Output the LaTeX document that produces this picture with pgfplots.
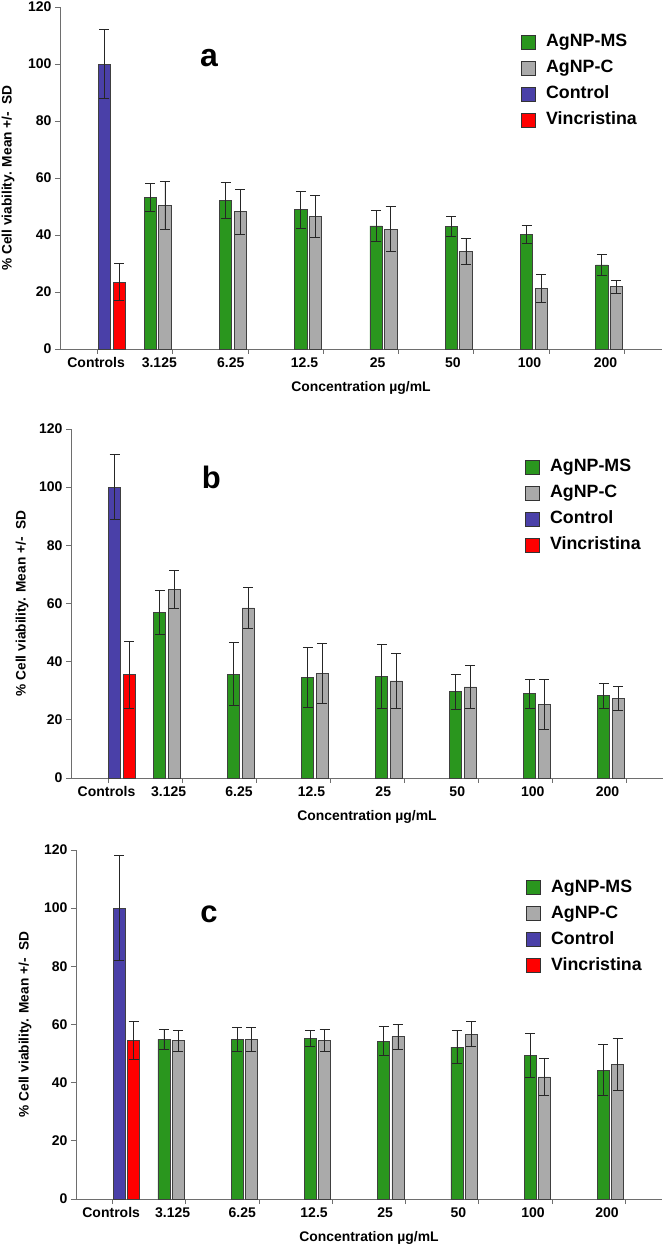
\documentclass[border=0pt]{standalone}
\usepackage{fontspec}
\setmainfont{Liberation Sans}
\usepackage{pgfplots}
\pgfplotsset{compat=1.18}
\definecolor{cgreen}{RGB}{42,150,30}
\definecolor{cgray}{RGB}{170,170,170}
\definecolor{cblue}{RGB}{74,64,168}
\definecolor{cred}{RGB}{255,0,0}
\definecolor{axgray}{RGB}{110,110,110}
\pgfplotsset{
 panel/.style={
  scale only axis, clip=false,
  xmin=0.5, xmax=8.5, ymin=0, ymax=120,
  axis x line*=bottom, axis y line*=left,
  axis line style={axgray, line width=0.9pt},
  tick style={axgray, line width=0.9pt},
  tick align=outside, major tick length=5pt,
  xtick={1,...,8}, xticklabels={},
  extra x ticks={0.98,1.82,2.77,3.75,4.72,5.72,6.74,7.75},
  extra x tick labels={Controls,3.125,6.25,12.5,25,50,100,200},
  extra x tick style={major tick length=0pt, xticklabel style={yshift=-5pt}},
  ytick={0,20,...,120},
  /pgf/number format/assume math mode=true,
  tick label style={font=\fontsize{14}{14}\selectfont\bfseries},
  xlabel={Concentration µg/mL},
  ylabel={\% Cell viability. Mean +/-\ \ SD},
  xlabel style={font=\fontsize{13.9}{13.9}\selectfont\bfseries, anchor=center},
  ylabel style={font=\fontsize{13.7}{13.7}\selectfont\bfseries, anchor=center},
  legend style={draw=none, fill=none, inner sep=0pt, anchor=north west,
    font=\fontsize{17.8}{17.8}\selectfont\bfseries,
    nodes={inner sep=0pt, text height=13pt, text depth=4pt},
    row sep=9pt, column sep=10pt},
  legend cell align=left,
  legend image code/.code={\draw[#1, draw=black!80, line width=0.8pt] (0pt,-7pt) rectangle (14pt,7pt);},
 },
 bars/.style={ybar, bar shift=0pt, bar width=0.163, draw=black!75, line width=0.7pt,
   error bars/y dir=both, error bars/y explicit,
   error bars/error bar style={black!85, line width=0.8pt},
   error bars/error mark options={rotate=90, mark size=5pt, line width=0.8pt, black!85}},
}
\begin{document}
\begin{tikzpicture}
\useasboundingbox (0,0) rectangle (664pt,1248pt);
% ---------- panel a ----------
\begin{axis}[panel, at={(60pt,899pt)}, anchor=south west, width=602pt, height=342pt,
  xlabel style={at={(axis description cs:0.5,-0.114)}},
  ylabel style={at={(axis description cs:-0.0864,0.5)}},
  legend style={at={(rel axis cs:0.766,0.923)}}]
\addplot[bars, fill=cgreen] coordinates {(1.70,53.2)+-(0,5.0) (2.70,52.2)+-(0,6.3) (3.70,48.9)+-(0,6.5) (4.70,43.2)+-(0,5.4) (5.70,42.9)+-(0,3.5) (6.70,40.1)+-(0,3.1) (7.70,29.5)+-(0,3.6)};
\addplot[bars, fill=cgray] coordinates {(1.895,50.5)+-(0,8.4) (2.895,48.2)+-(0,7.9) (3.895,46.5)+-(0,7.3) (4.895,42.1)+-(0,7.9) (5.895,34.3)+-(0,4.6) (6.895,21.3)+-(0,4.9) (7.895,21.9)+-(0,2.3)};
\addplot[bars, fill=cblue] coordinates {(1.09,100)+-(0,12)};
\addplot[bars, fill=cred] coordinates {(1.285,23.5)+-(0,6.6)};
\legend{AgNP-MS,AgNP-C,Control,Vincristina}
\node[font=\fontsize{32}{32}\selectfont\bfseries] at (rel axis cs:0.2475,0.851) {a};
\end{axis}
% ---------- panel b ----------
\begin{axis}[panel, at={(71pt,470pt)}, anchor=south west, width=592pt, height=349pt,
  xlabel style={at={(axis description cs:0.5,-0.112)}},
  ylabel style={at={(axis description cs:-0.0828,0.5)}},
  legend style={at={(rel axis cs:0.767,0.916)}}]
\addplot[bars, fill=cgreen] coordinates {(1.70,56.9)+-(0,7.6) (2.70,35.7)+-(0,10.8) (3.70,34.6)+-(0,10.3) (4.70,35.0)+-(0,10.9) (5.70,29.7)+-(0,6.0) (6.70,29.0)+-(0,5.0) (7.70,28.3)+-(0,4.3)};
\addplot[bars, fill=cgray] coordinates {(1.895,64.9)+-(0,6.6) (2.895,58.5)+-(0,6.9) (3.895,36.1)+-(0,10.3) (4.895,33.4)+-(0,9.4) (5.895,31.3)+-(0,7.5) (6.895,25.4)+-(0,8.6) (7.895,27.4)+-(0,4.2)};
\addplot[bars, fill=cblue] coordinates {(1.09,100)+-(0,11.1)};
\addplot[bars, fill=cred] coordinates {(1.285,35.5)+-(0,11.6)};
\legend{AgNP-MS,AgNP-C,Control,Vincristina}
\node[font=\fontsize{31}{31}\selectfont\bfseries] at (rel axis cs:0.237,0.862) {b};
\end{axis}
% ---------- panel c ----------
\begin{axis}[panel, at={(76pt,49pt)}, anchor=south west, width=586pt, height=349pt,
  xlabel style={at={(axis description cs:0.5,-0.112)}},
  ylabel style={at={(axis description cs:-0.087,0.5)}},
  legend style={at={(rel axis cs:0.768,0.917)}}]
\addplot[bars, fill=cgreen] coordinates {(1.70,54.9)+-(0,3.5) (2.70,54.9)+-(0,4.0) (3.70,55.2)+-(0,2.7) (4.70,54.3)+-(0,4.9) (5.70,52.2)+-(0,5.6) (6.70,49.3)+-(0,7.6) (7.70,44.3)+-(0,8.8)};
\addplot[bars, fill=cgray] coordinates {(1.895,54.4)+-(0,3.5) (2.895,54.9)+-(0,4.0) (3.895,54.4)+-(0,3.8) (4.895,55.8)+-(0,4.2) (5.895,56.7)+-(0,4.3) (6.895,42.0)+-(0,6.5) (7.895,46.2)+-(0,9.0)};
\addplot[bars, fill=cblue] coordinates {(1.09,100)+-(0,18)};
\addplot[bars, fill=cred] coordinates {(1.285,54.5)+-(0,6.5)};
\legend{AgNP-MS,AgNP-C,Control,Vincristina}
\node[font=\fontsize{31}{31}\selectfont\bfseries] at (rel axis cs:0.227,0.817) {c};
\end{axis}
\end{tikzpicture}
\end{document}
